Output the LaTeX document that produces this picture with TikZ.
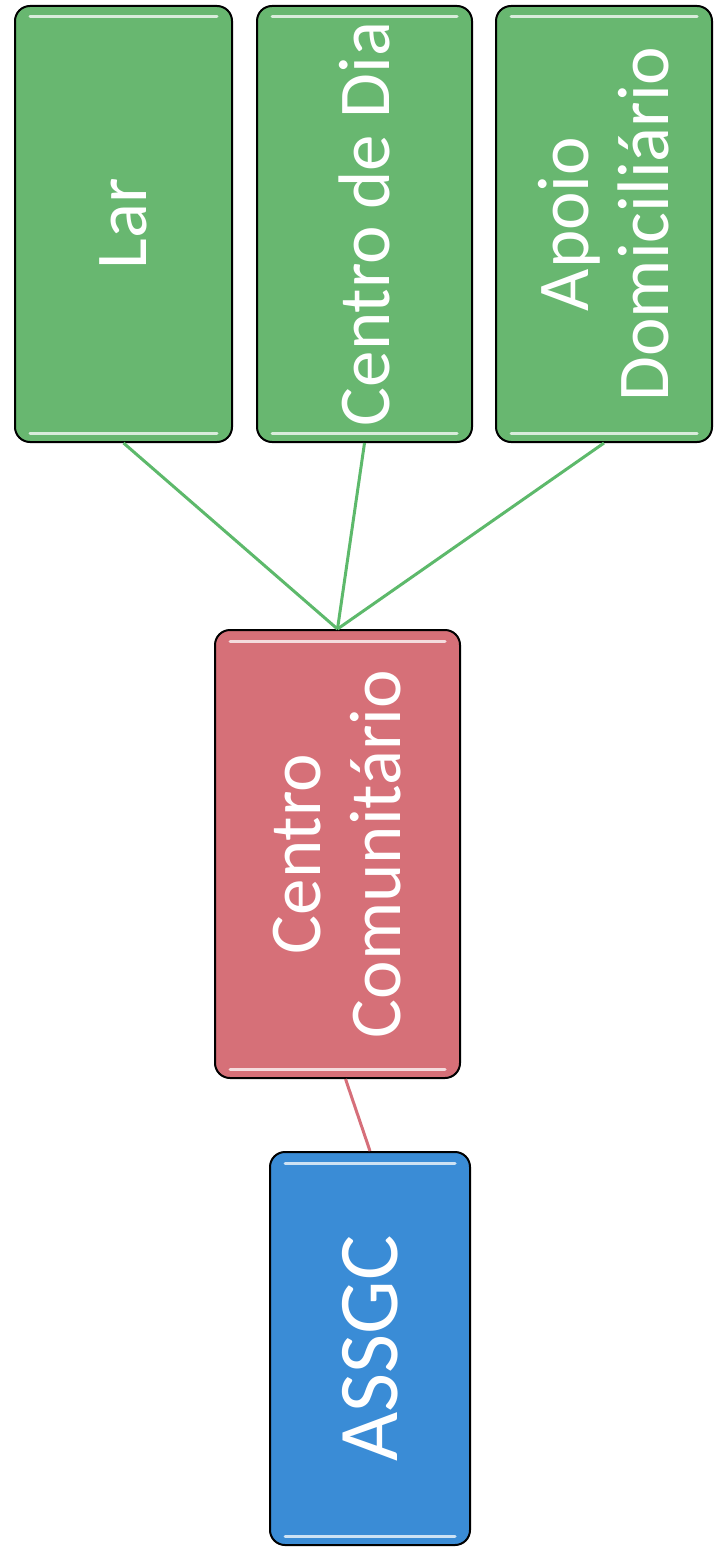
\documentclass[tikz,border=0pt]{standalone}
\usepackage{fontspec}
\setmainfont{Carlito}
\usetikzlibrary{calc}

\definecolor{boxgreen}{RGB}{104,183,112}
\definecolor{boxred}{RGB}{214,112,120}
\definecolor{boxblue}{RGB}{58,140,214}
\definecolor{linegreen}{RGB}{93,185,107}
\definecolor{linered}{RGB}{214,111,122}

\begin{document}
\begin{tikzpicture}[x=0.5pt, y=-0.5pt,
  box/.style={draw=black, line width=1pt, rounded corners=7.5pt, rotate=90,
    text=white, align=center, inner sep=0pt,
    font=\fontsize{36.5}{40}\selectfont},
  gloss/.style={white, line width=1.5pt, line cap=round, opacity=0.75}]

\useasboundingbox (0,0) rectangle (714,1556);

% services
\node[box, fill=boxgreen, minimum width=218pt, minimum height=108.5pt] (lar) at (123.5,224) {Lar};
\node[box, fill=boxgreen, minimum width=218pt, minimum height=107.5pt] (dia) at (364.5,224) {Centro de Dia};
\node[box, fill=boxgreen, minimum width=218pt, minimum height=108pt] (apoio) at (604,224) {Apoio\\Domiciliário};

\node[box, fill=boxred, minimum width=224pt, minimum height=122.5pt] (cc) at (337.5,854) {Centro\\Comunitário};
\node[box, fill=boxblue, minimum width=196.5pt, minimum height=100pt,
  font=\fontsize{42.5}{50}\selectfont] (assgc) at (370,1348.5) {ASSGC};

\foreach \n in {lar,dia,apoio,cc,assgc} {
  \draw[gloss] ($(\n.north east)+(16,12)$) -- ($(\n.south east)+(-16,12)$);
  \draw[gloss] ($(\n.north west)+(16,-10)$) -- ($(\n.south west)+(-16,-10)$);
}

\foreach \n in {lar,dia,apoio}
  \draw[linegreen, line width=1.5pt] (\n.west) -- (cc.east);
\draw[linered, line width=1.5pt] ($(cc.west)+(8,0)$) -- (assgc.east);

\end{tikzpicture}
\end{document}
